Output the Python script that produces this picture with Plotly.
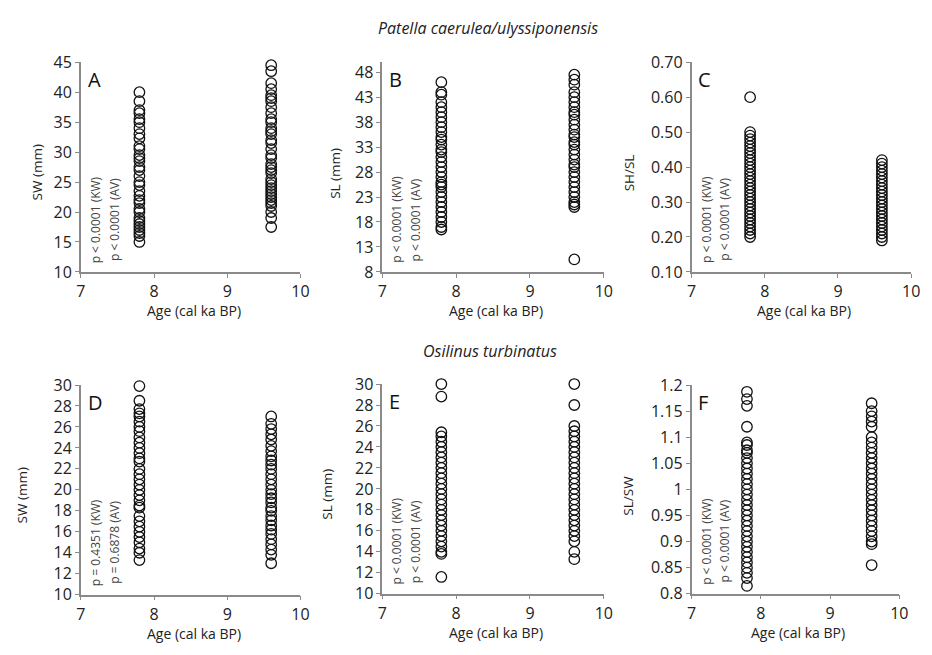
import plotly.graph_objects as go

W, H = 932, 655

ages = [7.8, 9.6]

# Panel A: SW (mm), Patella
A_78 = [40, 38.5, 37, 36.5, 35.5, 35, 34, 33, 32.3, 31, 30.5, 29.5, 29, 28.5, 27.5, 27, 26, 25, 24.5,
        23.5, 22.7, 22, 21.5, 20.5, 20, 19, 18.5, 18, 17.5, 17, 16.5, 16, 15]
A_96 = [44.5, 43.5, 41.5, 40.5, 39.5, 39, 38.5, 37.5, 36.5, 35.5, 35, 34, 33.5, 33, 32, 31.5, 30.5,
        29.5, 29, 28, 27.5, 27, 26.5, 25.5, 25, 24.5, 24, 23.5, 23, 22.5, 22, 21.5, 21, 20, 19, 17.5]
# Panel B: SL (mm), Patella
B_78 = [46, 44, 43.5, 42, 41, 40, 39, 38, 37, 36, 35, 34.5, 33.5, 32.5, 32, 31, 30, 29, 28, 27, 26,
        25.5, 25, 24, 23, 22, 21, 20, 19, 18, 17, 16.5]
B_96 = [47.5, 46.5, 45.5, 44, 43, 42, 41, 40, 39.5, 38.5, 37.5, 36.5, 35.5, 35, 34, 33.5, 32.5, 31.5,
        30.5, 29.5, 29, 28, 27, 26, 25, 24, 23, 22, 21.5, 21, 10.5]
# Panel C: SH/SL, Patella
C_78 = [0.60, 0.50, 0.49, 0.48, 0.47, 0.46, 0.45, 0.44, 0.43, 0.42, 0.41, 0.40, 0.39, 0.38, 0.37,
        0.36, 0.35, 0.34, 0.33, 0.32, 0.31, 0.30, 0.29, 0.28, 0.27, 0.26, 0.25, 0.24, 0.23, 0.22,
        0.21, 0.20]
C_96 = [0.42, 0.41, 0.40, 0.39, 0.38, 0.37, 0.36, 0.35, 0.34, 0.33, 0.32, 0.31, 0.30, 0.29, 0.28,
        0.27, 0.26, 0.25, 0.24, 0.23, 0.22, 0.21, 0.20, 0.19]
# Panel D: SW (mm), Osilinus
D_78 = [29.9, 28.5, 27.7, 27.3, 27, 26.5, 26, 25.6, 25, 24.5, 24, 23.5, 23, 22.7, 22, 21.5, 21, 20.5,
        20, 19.5, 19, 18.5, 18.3, 17.5, 17, 16.5, 16, 15.5, 15, 14.4, 14, 13.3]
D_96 = [27, 26.3, 25.8, 25.3, 24.8, 24.2, 23.7, 23.2, 22.8, 22.4, 22, 21.5, 21, 20.5, 20, 19.6, 19.2,
        18.8, 18.3, 18, 17.5, 17.1, 16.6, 16.2, 15.8, 15.3, 14.8, 14.3, 13.8, 13]
# Panel E: SL (mm), Osilinus
E_78 = [30, 28.8, 25.4, 25, 24.5, 24, 23.5, 23, 22.5, 22, 21.5, 21, 20.5, 20, 19.5, 19, 18.5, 18,
        17.5, 17, 16.5, 16, 15.5, 15, 14.5, 14, 13.8, 11.6]
E_96 = [30, 28, 26, 25.5, 25, 24.5, 24, 23.5, 23, 22.5, 22, 21.5, 21, 20.5, 20, 19.5, 19, 18.5, 18,
        17.5, 17, 16.5, 16, 15.5, 15, 14, 13.3]
# Panel F: SL/SW, Osilinus
F_78 = [1.187, 1.173, 1.16, 1.12, 1.09, 1.085, 1.075, 1.07, 1.06, 1.05, 1.04, 1.03, 1.02, 1.01, 1.0,
        0.99, 0.98, 0.97, 0.96, 0.95, 0.94, 0.93, 0.92, 0.91, 0.90, 0.89, 0.88, 0.87, 0.86, 0.85,
        0.84, 0.83, 0.815]
F_96 = [1.165, 1.15, 1.14, 1.13, 1.12, 1.10, 1.09, 1.08, 1.07, 1.06, 1.05, 1.04, 1.03, 1.02, 1.01,
        1.0, 0.99, 0.98, 0.97, 0.96, 0.95, 0.94, 0.93, 0.92, 0.91, 0.90, 0.895, 0.855]

x_ticks = [7, 8, 9, 10]
A_ticks = [10, 15, 20, 25, 30, 35, 40, 45]
B_ticks = [8, 13, 18, 23, 28, 33, 38, 43, 48]
C_ticks = [0.10, 0.20, 0.30, 0.40, 0.50, 0.60, 0.70]
D_ticks = [10, 12, 14, 16, 18, 20, 22, 24, 26, 28, 30]
E_ticks = [10, 12, 14, 16, 18, 20, 22, 24, 26, 28, 30]
F_ticks = [0.8, 0.85, 0.9, 0.95, 1, 1.05, 1.1, 1.15, 1.2]

panels = [
    dict(letter="A", ytitle="SW (mm)", d78=A_78, d96=A_96, ticks=A_ticks, ticktext=[str(t) for t in A_ticks],
         yr=[10, 45], box=(77, 300, 53, 270), ytx=32, p=("p < 0.0001 (KW)", "p < 0.0001 (AV)")),
    dict(letter="B", ytitle="SL (mm)", d78=B_78, d96=B_96, ticks=B_ticks, ticktext=[str(t) for t in B_ticks],
         yr=[8, 50], box=(383, 608, 53, 270), ytx=335, p=("p < 0.0001 (KW)", "p < 0.0001 (AV)")),
    dict(letter="C", ytitle="SH/SL", d78=C_78, d96=C_96, ticks=C_ticks, ticktext=["%.2f" % t for t in C_ticks],
         yr=[0.10, 0.70], box=(697, 920, 53, 270), ytx=633, p=("p < 0.0001 (KW)", "p < 0.0001 (AV)")),
    dict(letter="D", ytitle="SW (mm)", d78=D_78, d96=D_96, ticks=D_ticks, ticktext=[str(t) for t in D_ticks],
         yr=[10, 30], box=(77, 300, 387, 604), ytx=17, p=("p = 0.4351 (KW)", "p = 0.6878 (AV)")),
    dict(letter="E", ytitle="SL (mm)", d78=E_78, d96=E_96, ticks=E_ticks, ticktext=[str(t) for t in E_ticks],
         yr=[10, 30], box=(383, 608, 386, 603), ytx=327, p=("p < 0.0001 (KW)", "p < 0.0001 (AV)")),
    dict(letter="F", ytitle="SL/SW", d78=F_78, d96=F_96, ticks=F_ticks,
         ticktext=["0.8", "0.85", "0.9", "0.95", "1", "1.05", "1.1", "1.15", "1.2"],
         yr=[0.8, 1.2], box=(697, 908, 387, 603), ytx=633, p=("p < 0.0001 (KW)", "p < 0.0001 (AV)")),
]

FONT = "Open Sans"
AXC = "#8a8a8a"


def px(x):
    return x / W


def py(y):
    return 1 - y / H


fig = go.Figure()
annotations = []
layout = {}

for i, pnl in enumerate(panels):
    n = "" if i == 0 else str(i + 1)
    xa, ya = "x" + n, "y" + n
    x0, x1, y0, y1 = pnl["box"]
    xs = [ages[0]] * len(pnl["d78"]) + [ages[1]] * len(pnl["d96"])
    ys = pnl["d78"] + pnl["d96"]
    fig.add_trace(go.Scatter(
        x=xs, y=ys, mode="markers", xaxis=xa, yaxis=ya, showlegend=False, cliponaxis=False,
        marker=dict(symbol="circle-open", size=10.5, color="#111", line=dict(width=1.3, color="#111")),
    ))
    common = dict(showline=True, linecolor=AXC, linewidth=1.5, ticks="outside", ticklen=4,
                  tickcolor=AXC, tickwidth=1.2, showgrid=False, zeroline=False,
                  tickfont=dict(family=FONT, size=16, color="#222"), fixedrange=True)
    layout["xaxis" + n] = dict(domain=[px(x0), px(x1)], range=[7, 10], tickvals=x_ticks,
                               ticktext=[str(t) for t in x_ticks], anchor=ya, **common)
    layout["yaxis" + n] = dict(domain=[py(y1), py(y0)], range=pnl["yr"], tickvals=pnl["ticks"],
                               ticktext=pnl["ticktext"], anchor=xa, **common)
    # x title
    annotations.append(dict(text="Age (cal ka BP)", x=px((x0 + x1) / 2 + 3), y=py(y1 + 40), xref="paper",
                            yref="paper", showarrow=False, xanchor="center", yanchor="middle",
                            font=dict(family=FONT, size=14, color="#222")))
    # y title
    annotations.append(dict(text=pnl["ytitle"], x=px(pnl["ytx"]), y=py((y0 + y1) / 2 + 6), xref="paper",
                            yref="paper", showarrow=False, textangle=-90, xanchor="center",
                            yanchor="middle", font=dict(family=FONT, size=13.5, color="#222")))
    # panel letter
    annotations.append(dict(text=pnl["letter"], x=px(x0 + 5), y=py(y0 + 2), xref="paper", yref="paper",
                            showarrow=False, xanchor="left", yanchor="top",
                            font=dict(family=FONT, size=20, color="#111")))
    # p-values
    for k, t in enumerate(pnl["p"]):
        annotations.append(dict(text=t, x=px(x0 + 15 + 19 * k), y=py(y1 - 54), xref="paper", yref="paper",
                                showarrow=False, textangle=-90, xanchor="center", yanchor="middle",
                                font=dict(family=FONT, size=12, color="#444")))

annotations.append(dict(text="<i>Patella caerulea/ulyssiponensis</i>", x=px(490), y=py(18), xref="paper",
                        yref="paper", showarrow=False, xanchor="center", yanchor="middle",
                        font=dict(family=FONT, size=16, color="#222")))
annotations.append(dict(text="<i>Osilinus turbinatus</i>", x=px(492), y=py(352), xref="paper",
                        yref="paper", showarrow=False, xanchor="center", yanchor="middle",
                        font=dict(family=FONT, size=16, color="#222")))

fig.update_layout(width=W, height=H, margin=dict(l=0, r=0, t=0, b=0), paper_bgcolor="white",
                  plot_bgcolor="white", annotations=annotations, **layout)
fig.write_html("out.html", config={"displayModeBar": False},
               post_script="document.body.style.margin='0';document.body.style.overflow='hidden';")
